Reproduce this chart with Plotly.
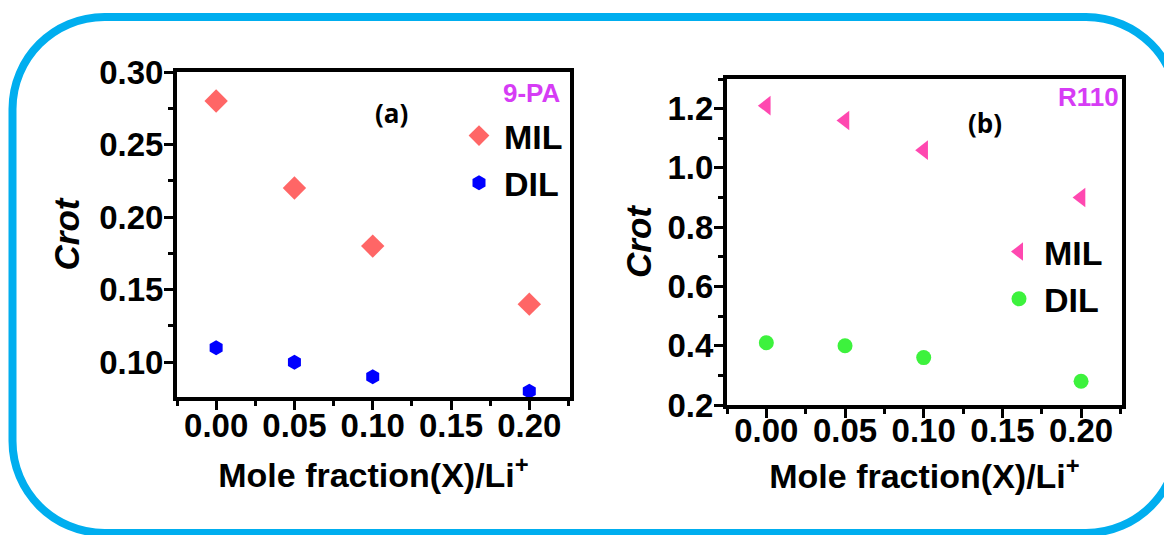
import plotly.graph_objects as go

# ---- data ----
x_frac = [0.00, 0.05, 0.10, 0.20]
mil_9pa = [0.28, 0.22, 0.18, 0.14]
dil_9pa = [0.11, 0.10, 0.09, 0.08]
mil_r110 = [1.21, 1.16, 1.06, 0.90]
dil_r110 = [0.41, 0.40, 0.36, 0.28]
x_ticks = [0.00, 0.05, 0.10, 0.15, 0.20]
y_ticks_a = [0.10, 0.15, 0.20, 0.25, 0.30]
y_ticks_b = [0.2, 0.4, 0.6, 0.8, 1.0, 1.2]

W, H = 1172, 535
OFF = 8  # page body margin
FONT = "Liberation Sans, Arial, sans-serif"

def px(x):
    return (x - OFF) / W

def py(y):
    return 1 - (y - OFF) / H

fig = go.Figure()

fig.add_trace(go.Scatter(x=x_frac, y=mil_9pa, mode="markers", name="MIL",
                         marker=dict(symbol="diamond", size=18, color="#FF6666"),
                         xaxis="x", yaxis="y", legend="legend"))
fig.add_trace(go.Scatter(x=x_frac, y=dil_9pa, mode="markers", name="DIL",
                         marker=dict(symbol="hexagon", size=15, color="#0000FF"),
                         xaxis="x", yaxis="y", legend="legend"))
fig.add_trace(go.Scatter(x=x_frac, y=mil_r110, mode="markers", name="MIL",
                         marker=dict(symbol="triangle-left", size=17, color="#FF48B0"),
                         xaxis="x2", yaxis="y2", legend="legend2"))
fig.add_trace(go.Scatter(x=x_frac, y=dil_r110, mode="markers", name="DIL",
                         marker=dict(symbol="circle", size=15, color="#3DF23D"),
                         xaxis="x2", yaxis="y2", legend="legend2"))

tickfont = dict(family=FONT, size=33, color="black", weight="bold")
titlefont = dict(family=FONT, size=34, color="black", weight="bold")
ytitlefont = dict(family=FONT, size=35, color="black", weight="bold", style="italic")

common = dict(showline=True, mirror=True, linewidth=4, linecolor="black",
              ticks="outside", ticklen=9, tickwidth=3, tickcolor="black",
              showgrid=False, zeroline=False, tickfont=tickfont, automargin=False)

def xax(standoff, title_standoff):
    return dict(common, range=[-0.025, 0.226], tickvals=x_ticks, tickformat=".2f",
                ticklabelstandoff=standoff,
                minor=dict(ticks="outside", ticklen=5, tickwidth=3, tickcolor="black", dtick=0.025),
                title=dict(text="Mole fraction(X)/Li<sup>+</sup>", font=titlefont,
                           standoff=title_standoff))

fig.update_layout(
    width=W, height=H,
    margin=dict(l=0, r=0, t=0, b=0, pad=0, autoexpand=False),
    paper_bgcolor="white", plot_bgcolor="white",
    xaxis=dict(xax(-13, 22), domain=[px(177), px(570)], anchor="y"),
    yaxis=dict(common, domain=[py(397), py(72)], anchor="x", range=[0.076, 0.30],
               tickvals=y_ticks_a, tickformat=".2f", ticklabelstandoff=-6,
               minor=dict(ticks="outside", ticklen=5, tickwidth=3, tickcolor="black", dtick=0.025),
               title=dict(text="Crot", font=ytitlefont, standoff=10)),
    xaxis2=dict(xax(-16, 18), domain=[px(727), px(1122)], anchor="y2"),
    yaxis2=dict(common, domain=[py(405), py(79)], anchor="x2", range=[0.2, 1.3],
                tickvals=y_ticks_b, tickformat=".1f", ticklabelstandoff=-6,
                minor=dict(ticks="outside", ticklen=5, tickwidth=3, tickcolor="black", dtick=0.1),
                title=dict(text="Crot", font=ytitlefont, standoff=6)),
    legend=dict(x=px(454), y=py(107), xanchor="left", yanchor="top",
                font=dict(family=FONT, size=34, color="black", weight="bold"),
                bgcolor="rgba(0,0,0,0)", itemwidth=40, tracegroupgap=0),
    legend2=dict(x=px(994), y=py(223), xanchor="left", yanchor="top",
                 font=dict(family=FONT, size=34, color="black", weight="bold"),
                 bgcolor="rgba(0,0,0,0)", itemwidth=40, tracegroupgap=0),
)

# panel labels
def label(text, x, y, xanchor, size, color, family):
    fig.add_annotation(text=text, x=px(x), y=py(y), xref="paper", yref="paper",
                       xanchor=xanchor, yanchor="middle", showarrow=False,
                       font=dict(family=family, size=size, color=color, weight="bold"))

label("(a)", 391, 113, "center", 26, "black", "Open Sans")
label("(b)", 985, 123, "center", 26, "black", "Open Sans")
label("9-PA", 563, 93, "right", 26, "#D63CF5", FONT)
label("R110", 1121, 97, "right", 26, "#D63CF5", FONT)

# rounded blue frame
L, T, R, B, r = 12.5, 17, 1178, 533, 92
k = 0.5523 * r
path = (
    f"M {px(L)},{py(T + r)} "
    f"C {px(L)},{py(T + r - k)} {px(L + r - k)},{py(T)} {px(L + r)},{py(T)} "
    f"L {px(R - r)},{py(T)} "
    f"C {px(R - r + k)},{py(T)} {px(R)},{py(T + r - k)} {px(R)},{py(T + r)} "
    f"L {px(R)},{py(B - r)} "
    f"C {px(R)},{py(B - r + k)} {px(R - r + k)},{py(B)} {px(R - r)},{py(B)} "
    f"L {px(L + r)},{py(B)} "
    f"C {px(L + r - k)},{py(B)} {px(L)},{py(B - r + k)} {px(L)},{py(B - r)} Z"
)
fig.add_shape(type="path", path=path, xref="paper", yref="paper",
              line=dict(color="#00AEEF", width=8), layer="above")

fig.write_html("out.html")
